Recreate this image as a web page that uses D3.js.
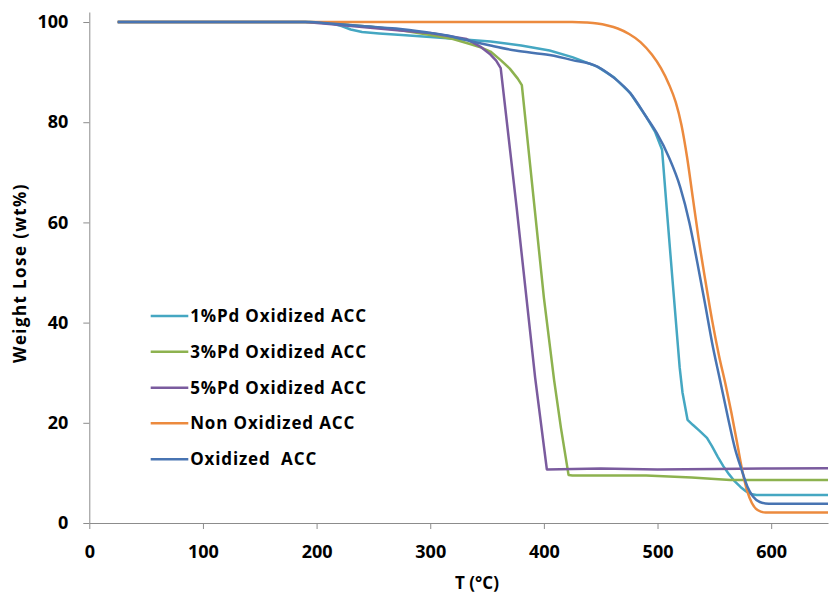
<!DOCTYPE html>
<html>
<head>
<meta charset="utf-8">
<script src="https://cdn.jsdelivr.net/npm/d3@7"></script>
<style>
  html, body { margin: 0; padding: 0; background: #fff; }
  svg text { font-family: "Open Sans", "Liberation Sans", sans-serif; font-weight: 700; fill: #000; }
</style>
</head>
<body>
<svg id="chart" width="833" height="594"></svg>
<script>
// TGA curves: temperature (°C) vs remaining weight (wt%)
const seriesNames = ["1%Pd Oxidized ACC", "3%Pd Oxidized ACC", "5%Pd Oxidized ACC", "Non Oxidized ACC", "Oxidized  ACC"];
const seriesColors = ["#45A7C2", "#8DB24F", "#7A5B9E", "#EC8A3E", "#4874B2"];

const pd1 = [[25,100],[190,100],[205,99.9],[215,99.6],[222,99.2],[230,98.5],[240,98.0],[255,97.7],[275,97.4],[300,97.0],[330,96.5],[353,96.1],[380,95.3],[405,94.3],[425,93.0],[447,91.1],[462,88.9],[476,85.8],[490,81.1],[498,78],[504,74.5],[508,63],[513,49],[519.5,31],[522,26],[526.4,20.6],[531,19.6],[537,18.4],[543.5,17.0],[548,15.3],[553,13.2],[558,11.3],[563,9.7],[568,8.3],[573,7.2],[578,6.3],[582,5.8],[587,5.6],[650,5.6]];
const pd3 = [[25,100],[190,100],[210,99.9],[229,99.4],[250,99.0],[273,98.4],[300,97.4],[320,96.6],[335,95.6],[345,94.9],[353,94.1],[362,92.4],[370,90.7],[377,88.7],[380.6,87.4],[392,62.5],[400,45],[409,28.5],[415,19],[421.7,9.6],[425,9.5],[490,9.5],[530,9.1],[564,8.6],[650,8.6]];
const pd5 = [[25,100],[190,100],[211,99.6],[240,99.0],[273.5,98.3],[300,97.8],[332,96.6],[344,95.1],[353,93.5],[358,92.3],[362,90.8],[376,63],[392.3,29],[402.6,10.7],[450,10.9],[500,10.7],[550,10.8],[600,10.9],[650,10.95]];
const nonOx = [[25,100],[425,100],[437,99.9],[447,99.7],[456,99.3],[465,98.7],[475,97.6],[485,96],[495,93.5],[503,90.8],[510,87.6],[516,84],[521,79.5],[526,73],[531,65],[536,57],[542,48.5],[548,40.5],[554,33.5],[560,27.5],[565,22],[570,16],[575,10],[579,6.3],[583,4.0],[588,2.6],[595,2.1],[650,2.1]];
const ox = [[25,100],[194,100],[212,99.7],[240,99.2],[270,98.7],[295,98.0],[315,97.3],[335,96.2],[353,95.3],[375,94.3],[405,93.4],[425,92.4],[447,91.1],[462,88.8],[476,85.8],[490,81.1],[499.4,77.8],[510,73],[520,67],[528,60],[535,52],[542,43.5],[548,36],[555,28.5],[562,21],[568,15],[574,10.6],[579,7.3],[584,5.3],[590,4.2],[598,3.85],[650,3.85]];
const seriesData = [pd1, pd3, pd5, nonOx, ox];
// smooth curves for the undoped samples, straight segments elsewhere
const seriesSmooth = [false, false, false, true, true];

const xTicks = [0, 100, 200, 300, 400, 500, 600];
const yTicks = [0, 20, 40, 60, 80, 100];

const svg = d3.select("#chart");
const x = d3.scaleLinear().domain([0, 650]).range([89.3, 828]);
const y = d3.scaleLinear().domain([0, 102]).range([523, 12]);

// axes
const xAxis = svg.append("g").attr("transform", "translate(0,523)")
  .call(d3.axisBottom(x).tickValues(xTicks).tickSize(6).tickSizeOuter(0).tickPadding(16));
const yAxis = svg.append("g").attr("transform", "translate(89.3,0)")
  .call(d3.axisLeft(y).tickValues(yTicks).tickSize(6).tickSizeOuter(0).tickPadding(15));
[xAxis, yAxis].forEach(g => {
  g.select(".domain").attr("stroke", "#8c8c8c").attr("stroke-width", 1);
  g.selectAll(".tick line").attr("stroke", "#8c8c8c");
  g.selectAll(".tick text").style("font-size", "18px").attr("fill", "#000");
});

// axis titles
svg.append("text").attr("x", 477).attr("y", 589).attr("text-anchor", "middle")
  .style("font-size", "17px").text("T (°C)");
svg.append("text").attr("transform", "translate(26,273) rotate(-90)").attr("text-anchor", "middle")
  .style("font-size", "17px").style("letter-spacing", "1.4px").text("Weight Lose (wt%)");

// series lines
const lineLinear = d3.line().x(d => x(d[0])).y(d => y(d[1]));
const lineSmooth = d3.line().x(d => x(d[0])).y(d => y(d[1])).curve(d3.curveMonotoneX);
svg.append("g").selectAll("path").data(seriesData).join("path")
  .attr("d", (d, i) => seriesSmooth[i] ? lineSmooth(d) : lineLinear(d))
  .attr("fill", "none")
  .attr("stroke", (d, i) => seriesColors[i])
  .attr("stroke-width", 2.5)
  .attr("stroke-linejoin", "round");

// legend
const legendRows = [316, 351.7, 387.7, 423.3, 459.3];
const legend = svg.append("g").selectAll("g").data(seriesNames).join("g")
  .attr("transform", (d, i) => `translate(150.7,${legendRows[i]})`);
legend.append("line").attr("x1", 0).attr("x2", 37.6).attr("y1", 0).attr("y2", 0)
  .attr("stroke", (d, i) => seriesColors[i]).attr("stroke-width", 2.5);
legend.append("text").attr("x", 39.5).attr("dy", "0.36em")
  .style("font-size", "17px").style("letter-spacing", "0.85px").style("white-space", "pre").text(d => d);
</script>
</body>
</html>
